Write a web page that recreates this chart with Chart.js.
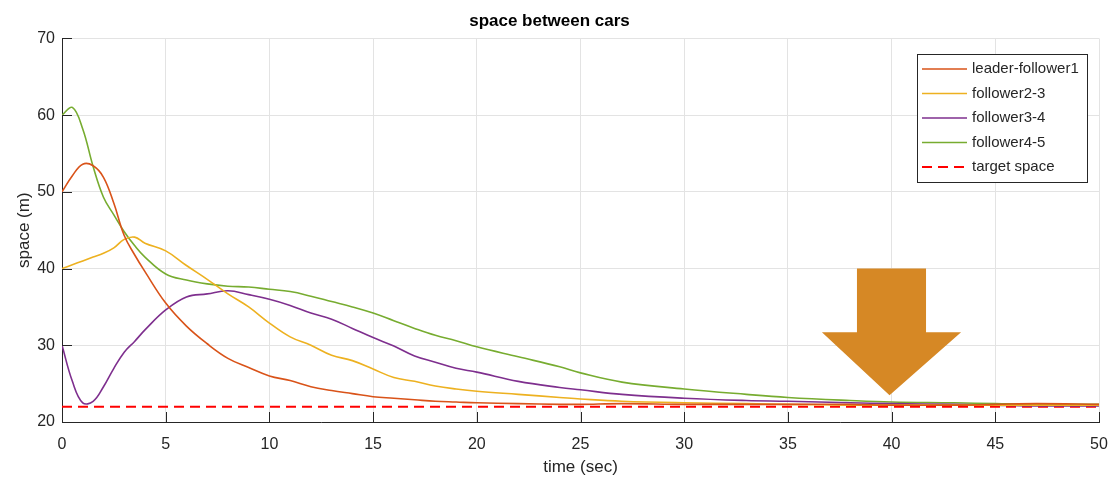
<!DOCTYPE html>
<html lang="en">
<head>
  <meta charset="UTF-8">
  <title>space between cars</title>
  <style>
    html, body { margin: 0; padding: 0; background: #fff; }
    #wrap { width: 1109px; height: 483px; }
  </style>
</head>
<body>
  <div id="wrap"><canvas id="myChart"></canvas></div>
  <script src="https://cdn.jsdelivr.net/npm/chart.js"></script>
  <script>
    const time = [0,0.5,1,1.5,2,2.5,3,3.5,4,5,6,7,8,9,10,11,12,13,14,15,16,17,18,19,20,22,24,25,27,30,33,35,38,40,43,45,47,50]
    const leaderFollower1 = [50,52.1,53.6,53.4,51.9,48.5,44.3,41.8,39.6,35.5,32.5,30.2,28.3,27.1,26.0,25.4,24.6,24.1,23.7,23.3,23.1,22.9,22.7,22.6,22.5,22.4,22.3,22.3,22.4,22.3,22.3,22.3,22.3,22.2,22.2,22.3,22.4,22.3]
    const follower23 = [40,40.5,41.0,41.5,42.0,42.7,43.8,44.1,43.3,42.3,40.4,38.6,36.7,35.0,32.9,31.1,30.0,28.7,28.0,26.9,25.8,25.3,24.7,24.3,24.0,23.6,23.2,23.0,22.7,22.5,22.4,22.3,22.2,22.2,22.2,22.2,22.2,22.2]
    const follower34 = [30,25.3,22.5,22.7,24.6,27.0,29.1,30.5,32.0,34.6,36.3,36.7,37.1,36.6,36.0,35.2,34.2,33.4,32.2,31.0,29.9,28.6,27.8,27.0,26.5,25.3,24.5,24.2,23.6,23.1,22.8,22.7,22.5,22.4,22.3,22.2,22.1,22.1]
    const follower45 = [60,61.0,58.2,53.3,49.3,47.0,44.8,43.0,41.5,39.3,38.5,38.0,37.7,37.6,37.3,37.0,36.4,35.7,35.0,34.2,33.2,32.2,31.3,30.6,29.8,28.5,27.2,26.4,25.2,24.3,23.6,23.2,22.8,22.6,22.5,22.4,22.3,22.3]
    const targetTime = [0, 50]
    const targetSpace = [22, 22]

    // big arrow pointing at the settled region (data units)
    const arrowX = [38.33, 41.66, 41.66, 43.35, 39.9, 36.64, 38.33]
    const arrowY = [40, 40, 31.7, 31.7, 23.5, 31.7, 31.7]

    const xTicks = [0,5,10,15,20,25,30,35,40,45,50]
    const yTicks = [20,30,40,50,60,70]

    const FONT = "'Liberation Sans', Arial, Helvetica, sans-serif"
    const axisColor = '#262626'

    const pts = (xs, ys) => xs.map((x, i) => ({x: x, y: ys[i]}))

    const series = [
      {label: 'leader-follower1', data: pts(time, leaderFollower1), borderColor: '#D95319'},
      {label: 'follower2-3', data: pts(time, follower23), borderColor: '#EDB120'},
      {label: 'follower3-4', data: pts(time, follower34), borderColor: '#7E2F8E'},
      {label: 'follower4-5', data: pts(time, follower45), borderColor: '#77AC30'},
      {label: 'target space', data: pts(targetTime, targetSpace), borderColor: '#FF0000', borderDash: [10, 6], borderWidth: 2, tension: 0}
    ]

    // inward tick marks, MATLAB style
    const innerTicks = {
      id: 'innerTicks',
      afterDatasetsDraw(chart) {
        const {ctx, chartArea: a, scales: {x, y}} = chart
        ctx.save()
        ctx.strokeStyle = axisColor
        ctx.lineWidth = 1
        ctx.beginPath()
        xTicks.forEach(v => {
          const px = Math.round(x.getPixelForValue(v)) + 0.5
          ctx.moveTo(px, a.bottom); ctx.lineTo(px, a.bottom - 10)
        })
        yTicks.forEach(v => {
          const py = Math.round(y.getPixelForValue(v)) + 0.5
          ctx.moveTo(a.left, py); ctx.lineTo(a.left + 10, py)
        })
        ctx.stroke()
        ctx.restore()
      }
    }

    const arrowPlugin = {
      id: 'arrow',
      afterDatasetsDraw(chart) {
        const {ctx, scales: {x, y}} = chart
        ctx.save()
        ctx.fillStyle = '#D68825'
        ctx.beginPath()
        arrowX.forEach((v, i) => {
          const px = x.getPixelForValue(v), py = y.getPixelForValue(arrowY[i])
          if (i === 0) ctx.moveTo(px, py); else ctx.lineTo(px, py)
        })
        ctx.closePath()
        ctx.fill()
        ctx.restore()
      }
    }

    const boxLegend = {
      id: 'boxLegend',
      afterDraw(chart) {
        const {ctx} = chart
        const left = 917, top = 54, w = 170, h = 128
        ctx.save()
        ctx.fillStyle = '#fff'
        ctx.fillRect(left, top, w, h)
        ctx.strokeStyle = axisColor
        ctx.lineWidth = 1
        ctx.strokeRect(left + 0.5, top + 0.5, w, h)
        ctx.font = '15px ' + FONT
        ctx.textBaseline = 'middle'
        chart.data.datasets.forEach((ds, i) => {
          const ry = top + 15 + i * 24.5
          ctx.strokeStyle = ds.borderColor
          ctx.lineWidth = ds.borderWidth || 1.6
          ctx.setLineDash(ds.borderDash || [])
          ctx.beginPath()
          ctx.moveTo(left + 5, ry); ctx.lineTo(left + 50, ry)
          ctx.stroke()
          ctx.setLineDash([])
          ctx.fillStyle = axisColor
          ctx.fillText(ds.label, left + 55, ry)
        })
        ctx.restore()
      }
    }

    const ctx = document.getElementById('myChart')

    new Chart(ctx, {
      type: 'line',
      data: {
        datasets: series.map(s => Object.assign({
          borderWidth: 1.6,
          pointRadius: 0,
          fill: false,
          tension: 0.4
        }, s))
      },
      options: {
        responsive: true,
        maintainAspectRatio: false,
        animation: false,
        layout: {padding: {left: 0, right: 10, top: 0, bottom: 0}},
        plugins: {
          legend: {display: false},
          tooltip: {enabled: false},
          title: {
            display: true,
            text: 'space between cars',
            color: '#000',
            font: {family: FONT, size: 17, weight: 'bold', lineHeight: 1.2},
            padding: {top: 11, bottom: 7}
          }
        },
        scales: {
          x: {
            type: 'linear',
            min: 0, max: 50,
            afterBuildTicks: s => { s.ticks = xTicks.map(v => ({value: v})) },
            afterFit: s => { s.height = 61; s.paddingLeft = 0; s.paddingRight = 0 },
            ticks: {color: axisColor, font: {family: FONT, size: 16}, padding: 13, maxRotation: 0},
            grid: {color: '#e3e3e3', drawTicks: false},
            border: {color: axisColor, width: 1},
            title: {display: true, text: 'time (sec)', color: axisColor, font: {family: FONT, size: 17}, padding: {top: 0, bottom: 5}}
          },
          y: {
            min: 20, max: 70,
            afterBuildTicks: s => { s.ticks = yTicks.map(v => ({value: v})) },
            afterFit: s => { s.width = 62; s.paddingTop = 0; s.paddingBottom = 0 },
            ticks: {color: axisColor, font: {family: FONT, size: 16}, padding: 7},
            grid: {color: '#e3e3e3', drawTicks: false},
            border: {color: axisColor, width: 1},
            title: {display: true, text: 'space (m)', color: axisColor, font: {family: FONT, size: 17}, padding: {top: 14, bottom: 0}}
          }
        }
      },
      plugins: [arrowPlugin, innerTicks, boxLegend]
    })
  </script>
</body>
</html>
